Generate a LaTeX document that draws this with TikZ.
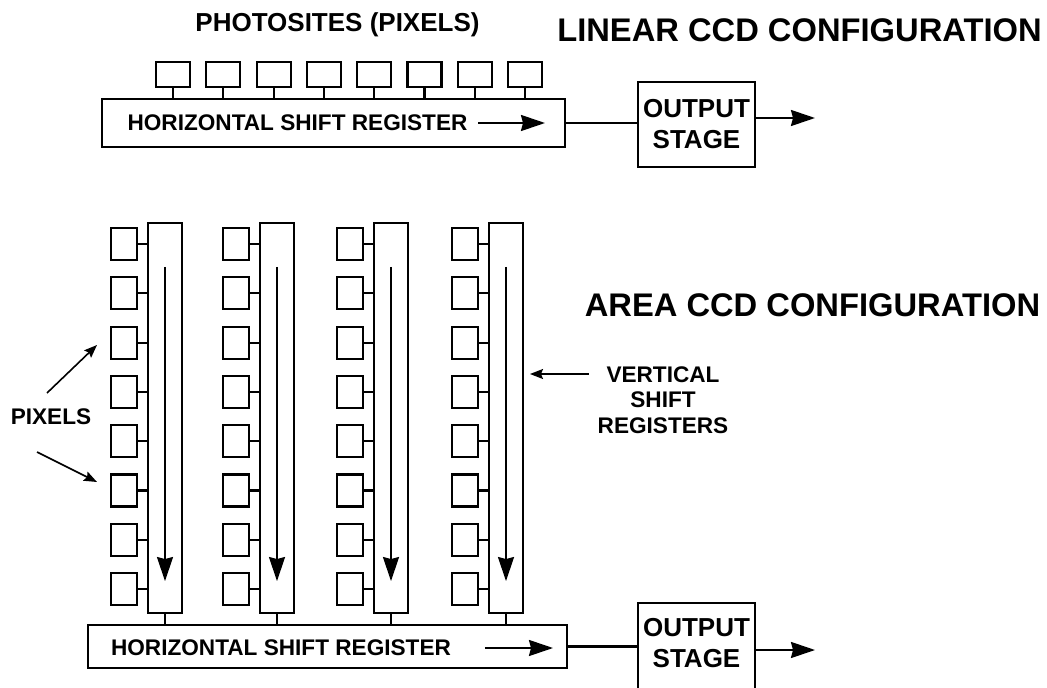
\documentclass[tikz,border=0pt]{standalone}
\usepackage{fontspec}
\setmainfont{Liberation Sans}
\usetikzlibrary{arrows.meta}
\usetikzlibrary{positioning}

\begin{document}
\begin{tikzpicture}[x=1pt,y=-1pt,line width=2.1pt,>={Stealth[length=24pt,width=16pt,inset=2pt]}]
		\tikzstyle{photosite}=[draw,minimum width=34pt,minimum height=25pt,inner sep=0pt]
		\tikzstyle{pixel}=[draw,minimum width=26pt,minimum height=32pt,inner sep=0pt]
		\tikzstyle{vreg}=[draw,minimum width=34pt,minimum height=390pt,inner sep=0pt]
		\tikzstyle{block}=[draw,inner sep=0pt]
		\tikzstyle{title}=[inner sep=0pt,font=\fontsize{32.7}{36}\selectfont\bfseries]
		\tikzstyle{lbl}=[inner sep=0pt,align=center,font=\fontsize{22.6}{25.5}\selectfont\bfseries]
		\tikzstyle{big}=[inner sep=0pt,align=center,font=\fontsize{26}{31}\selectfont\bfseries]
		\tikzstyle{small}=[-{Stealth[length=13pt,width=10pt,inset=2pt]},line width=1.6pt]
		
		\useasboundingbox (0,0) rectangle (1047,688);
		
		% linear ccd
		\node[title]       (lintitle)    at (799.5,30)     {LINEAR CCD CONFIGURATION};
		\node[big]         (photo)       at (337.5,25)     {PHOTOSITES (PIXELS)};
		\foreach \i in {0,...,7}
			\node[photosite] (ph\i) at (173+50.3*\i,74.5) {};
		\node[block,minimum width=463pt,minimum height=47.5pt] (linreg) at (333.5,123) {};
		\foreach \i in {0,...,7}
			\draw (ph\i.south) -- (ph\i.south |- linreg.north);
		\node[lbl]         (lintext)     at (297.5,123)    {HORIZONTAL SHIFT REGISTER};
		\coordinate (la) at (545,123);
		\draw[->] ([xshift=10pt]lintext.east) -- (la);
		
		\node[block,big,minimum width=117pt,minimum height=85pt] (out1) at (696.5,124.5) {OUTPUT\\STAGE};
		\draw (linreg.east) -- (out1.west |- linreg.east);
		\coordinate (o1) at (815,118);
		\draw[->] (out1.east |- o1) -- (o1);
		
		% area ccd
		\node[title]       (areatitle)   at (812.5,305)    {AREA CCD CONFIGURATION};
		\node[block,minimum width=479pt,minimum height=43pt] (areg) at (327.5,646.5) {};
		\foreach \c/\x in {1/148,2/260,3/374,4/489} {
			\node[vreg] (col\c) at (\x+17,418) {};
			\foreach \r in {1,...,8} {
				\node[pixel] (px\c\r) at (\x-24,244+49.3*\r-49.3) {};
				\draw (px\c\r.east) -- (px\c\r.east -| col\c.west);
			}
			\draw[->] ([yshift=-45pt]col\c.north) -- ([yshift=33pt]col\c.south);
			\draw (col\c.south) -- (col\c.south |- areg.north);
		}
		\node[lbl]         (arealbl)     at (281,648)      {HORIZONTAL SHIFT REGISTER};
		\coordinate (aa) at (553,648);
		\draw[->] ([xshift=33pt]arealbl.east) -- (aa);
		
		\node[block,minimum width=117pt,minimum height=92pt] (out2) at (696.5,649) {};
		\node[big]         (out2txt)     at (696.5,643)    {OUTPUT\\STAGE};
		\draw (areg.east) -- (out2.west |- areg.east);
		\coordinate (o2) at (815,650);
		\draw[->] (out2.east |- o2) -- (o2);
		
		% labels with pointers
		\node[lbl]         (pixlbl)      at (51,417)       {PIXELS};
		\coordinate (pu0) at (47,393);
		\coordinate (pu1) at (97,345);
		\coordinate (pd0) at (37,452);
		\coordinate (pd1) at (97,482);
		\draw[small] (pu0) -- (pu1);
		\draw[small] (pd0) -- (pd1);
		
		\node[lbl]         (vsr)         at (663,400)      {VERTICAL\\SHIFT\\REGISTERS};
		\coordinate (va) at (530,374);
		\draw[small] ([xshift=-8pt]vsr.west |- va) -- (va);
\end{tikzpicture}
\end{document}
